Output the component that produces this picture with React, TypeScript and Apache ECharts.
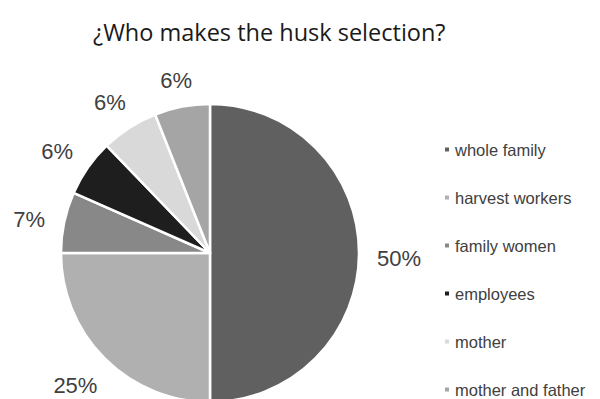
import React, { useEffect, useRef } from "react";
import * as echarts from "echarts";

const categories = ["whole family", "harvest workers", "family women", "employees", "mother", "mother and father"];
const values = [50, 25, 6.6, 6.2, 6.2, 6.0];
const colors = ["#606060", "#b0b0b0", "#888888", "#1e1e1e", "#d9d9d9", "#a5a5a5"];
const titleText = "¿Who makes the husk selection?";

export default function App() {
  const ref = useRef<HTMLDivElement>(null);
  useEffect(() => {
    if (!ref.current) return;
    const chart = echarts.init(ref.current, null, { renderer: "svg" });
    const cx = 210, cy = 253, R = 149, gap = 18;
    const total = values.reduce((a, b) => a + b, 0);
    const cum: number[] = [];
    values.reduce((a, b, i) => { cum[i] = a; return a + b; }, 0);
    chart.setOption({
      animation: false,
      backgroundColor: "#ffffff",
      title: {
        text: titleText,
        left: 88,
        top: 15,
        textStyle: { fontFamily: "Open Sans", fontSize: 23.5, fontWeight: "normal", color: "#1a1a1a" },
      },
      legend: {
        orient: "vertical",
        left: 438,
        top: 136,
        height: 300,
        icon: "rect",
        itemWidth: 6,
        itemHeight: 6,
        itemGap: 31,
        textStyle: { fontFamily: "Liberation Sans", fontSize: 16.5, color: "#404040" },
        data: categories,
      },
      series: [
        {
          type: "pie",
          center: [cx, cy],
          radius: R,
          startAngle: 90,
          clockwise: true,
          avoidLabelOverlap: false,
          color: colors,
          itemStyle: { borderColor: "#ffffff", borderWidth: 2.5 },
          label: {
            show: true,
            position: "outside",
            fontFamily: "Liberation Sans",
            fontSize: 22,
            color: "#404040",
            formatter: (p: any) => Math.round(p.percent) + "%",
          },
          labelLine: { show: false, length: 10, length2: 0 },
          labelLayout: (params: any) => {
            const i = params.dataIndex;
            const theta = ((90 - (360 * (cum[i] + values[i] / 2)) / total) * Math.PI) / 180;
            const c = Math.cos(theta), s = Math.sin(theta);
            const w = params.labelRect.width, h = params.labelRect.height;
            const d = R + gap + Math.abs(c) * w / 2 + Math.abs(s) * h / 2;
            const dy = s > -0.1 ? 5 : -2;
            return { x: cx + d * c, y: cy - d * s + dy, align: "center", verticalAlign: "middle" };
          },
          data: categories.map((name, i) => ({ name, value: values[i] })),
        },
      ],
    });
    return () => chart.dispose();
  }, []);
  return <div ref={ref} style={{ position: "fixed", left: 0, top: 0, width: 600, height: 399 }} />;
}
